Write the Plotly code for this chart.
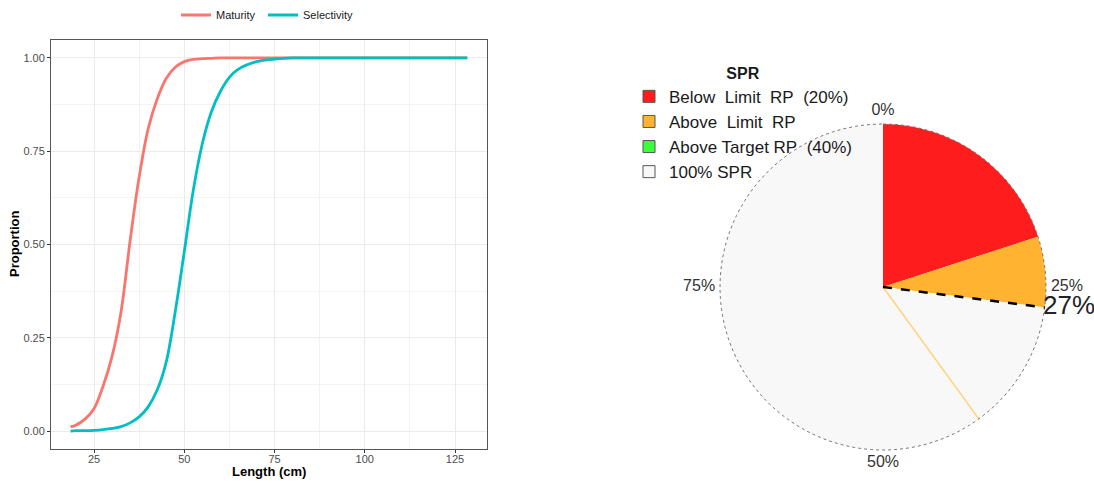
import plotly.graph_objects as go

# ---- data: maturity / selectivity curves ----
length_cm = [18.5, 20, 22.5, 25, 27.5, 30, 32.5, 35, 37.5, 40, 42.5, 45, 47.5, 50,
             52.5, 55, 57.5, 60, 62.5, 65, 70, 75, 80, 90, 100, 110, 120, 128.4]
maturity = [0.011, 0.016, 0.032, 0.06, 0.12, 0.20, 0.32, 0.51, 0.68, 0.81, 0.89, 0.945,
            0.975, 0.99, 0.996, 0.998, 0.999, 1.0, 1.0, 1.0, 1.0, 1.0, 1.0, 1.0, 1.0, 1.0, 1.0, 1.0]
selectivity = [0.0, 0.001, 0.001, 0.002, 0.004, 0.007, 0.012, 0.022, 0.038, 0.065, 0.11,
               0.185, 0.32, 0.48, 0.645, 0.77, 0.855, 0.91, 0.948, 0.97, 0.99, 0.997, 1.0,
               1.0, 1.0, 1.0, 1.0, 1.0]
x_ticks = [25, 50, 75, 100, 125]
y_ticks = [0.0, 0.25, 0.5, 0.75, 1.0]

# ---- data: SPR pie ----
slice_labels = ["Below\u00a0\u00a0Limit\u00a0\u00a0RP\u00a0\u00a0(20%)",
                "Above\u00a0\u00a0Limit\u00a0\u00a0RP",
                "Above Target RP\u00a0\u00a0(40%)",
                "100% SPR"]
slice_values = [20, 7, 0, 73]          # percent of 100% SPR
slice_colors = ["#FF1C1C", "#FFB330", "#3CFF3C", "#F8F8F8"]
current_spr = 27
target_rp = 40
pie_ticks = [0, 25, 50, 75]
pie_tick_labels = ["0%", "25%", "50%", "75%"]
pie_tick_pos = ["top center", "middle right", "bottom center", "middle left"]

FONT = "Liberation Sans, Arial, sans-serif"
W, H = 1094, 483
R_MAX = 1.2  # radial range, leaves room for labels outside the pie

fig = go.Figure()

fig.add_trace(go.Scatter(x=length_cm, y=maturity, name="Maturity", mode="lines",
                         legendwidth=42,
                         line=dict(color="#F8766D", width=2.8, shape="spline")))
fig.add_trace(go.Scatter(x=length_cm, y=selectivity, name="Selectivity", mode="lines",
                         line=dict(color="#00BFC4", width=2.8, shape="spline")))

# pie slices as polar bars
deg = [v * 3.6 for v in slice_values]
start = 0.0
for lab, d, col in zip(slice_labels, deg, slice_colors):
    fig.add_trace(go.Barpolar(r=[1], theta=[start + d / 2], width=[d], base=0,
                              marker=dict(color=col, line=dict(width=0)),
                              showlegend=False, hoverinfo="skip", subplot="polar"))
    start += d
# legend swatches
for lab, col in zip(slice_labels, slice_colors):
    fig.add_trace(go.Barpolar(r=[0], theta=[0], width=[1], name=lab,
                              marker=dict(color=col, line=dict(color="#555555", width=1)),
                              legend="legend2", subplot="polar", hoverinfo="skip"))

# target RP thin line
fig.add_trace(go.Scatterpolar(r=[0, 1], theta=[target_rp * 3.6] * 2, mode="lines",
                              line=dict(color="#FFD27A", width=1.5),
                              showlegend=False, hoverinfo="skip", subplot="polar"))
# outer dotted circle
circ_theta = list(range(0, 361, 2))
fig.add_trace(go.Scatterpolar(r=[1] * len(circ_theta), theta=circ_theta, mode="lines",
                              line=dict(color="#777777", width=1, dash="dot"),
                              showlegend=False, hoverinfo="skip", subplot="polar"))
# current SPR dashed line
fig.add_trace(go.Scatterpolar(r=[0, 1], theta=[current_spr * 3.6] * 2, mode="lines",
                              line=dict(color="black", width=2.5, dash="dash"),
                              showlegend=False, hoverinfo="skip", subplot="polar"))
# percentage labels around the pie
fig.add_trace(go.Scatterpolar(r=[1.03] * len(pie_ticks), theta=[t * 3.6 for t in pie_ticks],
                              mode="text", text=pie_tick_labels, textposition=pie_tick_pos,
                              textfont=dict(size=16, color="#333333", family=FONT),
                              cliponaxis=False, showlegend=False, hoverinfo="skip",
                              subplot="polar"))
# current SPR label
fig.add_trace(go.Scatterpolar(r=[0.99], theta=[current_spr * 3.6], mode="text",
                              text=[f"{current_spr}%"], textposition="middle right",
                              textfont=dict(size=26, color="#222222", family=FONT),
                              cliponaxis=False, showlegend=False, hoverinfo="skip",
                              subplot="polar"))

cx, cy, r = 883, 287, 163 * R_MAX

fig.update_layout(
    width=W, height=H,
    margin=dict(l=0, r=0, t=0, b=0),
    paper_bgcolor="white", plot_bgcolor="white",
    font=dict(family=FONT, color="#333333"),
    xaxis=dict(domain=[51 / W, 487 / W], range=[13.09, 133.86],
               tickvals=x_ticks, ticks="outside", ticklen=3, tickcolor="#333333",
               tickfont=dict(size=11, color="#4D4D4D"), ticklabelstandoff=-3,
               showgrid=True, gridcolor="#EBEBEB", gridwidth=1,
               minor=dict(tickvals=[12.5, 37.5, 62.5, 87.5, 112.5], showgrid=True,
                          gridcolor="#F3F3F3", gridwidth=0.6, ticks=""),
               showline=True, mirror=True, linecolor="#555555", linewidth=1,
               zeroline=False, automargin=False),
    yaxis=dict(domain=[1 - 449 / H, 1 - 40 / H], range=[-0.048, 1.048],
               tickvals=y_ticks, tickformat=".2f", ticks="outside", ticklen=3,
               tickcolor="#333333", tickfont=dict(size=11, color="#4D4D4D"),
               showgrid=True, gridcolor="#EBEBEB", gridwidth=1,
               minor=dict(tickvals=[0.125, 0.375, 0.625, 0.875], showgrid=True,
                          gridcolor="#F3F3F3", gridwidth=0.6, ticks=""),
               showline=True, mirror=True, linecolor="#555555", linewidth=1,
               zeroline=False, automargin=False),
    legend=dict(orientation="h", x=176 / W, xanchor="left", y=1 - 15 / H,
                yanchor="middle", font=dict(size=11, color="#1A1A1A"),
                bgcolor="rgba(0,0,0,0)"),
    legend2=dict(x=629 / W, xanchor="left", y=1 - 58 / H, yanchor="top",
                 font=dict(size=17, color="#1A1A1A"), bgcolor="rgba(0,0,0,0)",
                 title=dict(text="<b>SPR</b>", side="top center",
                            font=dict(size=16, color="#1A1A1A")),
                 traceorder="normal", tracegroupgap=0),
    polar=dict(domain=dict(x=[(cx - r) / W, (cx + r) / W],
                           y=[1 - (cy + r) / H, 1 - (cy - r) / H]),
               bgcolor="rgba(0,0,0,0)", bargap=0,
               radialaxis=dict(range=[0, R_MAX], visible=False),
               angularaxis=dict(rotation=90, direction="clockwise",
                                showticklabels=False, ticks="",
                                showgrid=False, showline=False)),
    annotations=[
        dict(text="<b>Length (cm)</b>", x=269 / W, y=1 - 471 / H, xref="paper",
             yref="paper", showarrow=False, xanchor="center", yanchor="middle",
             font=dict(size=13, color="black")),
        dict(text="<b>Proportion</b>", x=14 / W, y=1 - 244 / H, xref="paper",
             yref="paper", showarrow=False, xanchor="center", yanchor="middle",
             textangle=-90, font=dict(size=13, color="black")),
    ],
)

fig.write_html("out.html", config={"displayModeBar": False},
               post_script="document.body.style.margin='0';")
